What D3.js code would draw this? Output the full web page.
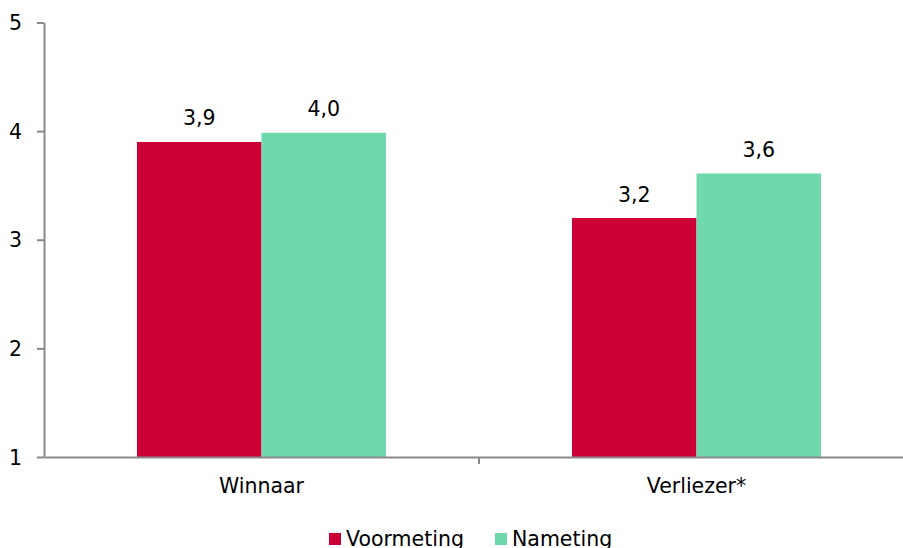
<!DOCTYPE html>
<html>
  <head>
    <meta charset="utf-8">
    <title>Voormeting / Nameting</title>
    <style>
      body { margin: 0; background: #fff; }
      svg text { font-family: "DejaVu Sans", sans-serif; fill: #000; }
    </style>
  </head>
  <body>
    <div><svg id='chart'/></div>
  </body>
  <script type="text/javascript" src="https://cdn.jsdelivr.net/npm/d3@7/dist/d3.min.js"></script>
  <script type="text/javascript">
    const categories = ['Winnaar', 'Verliezer*'];
    const seriesNames = ['Voormeting', 'Nameting'];
    const voormeting = [3.9, 3.2];
    const nameting = [3.985, 3.61];
    const valueLabels = [['3,9', '4,0'], ['3,2', '3,6']];
    const yTicks = [1, 2, 3, 4, 5];
    const colors = ['#cc0036', '#6fd9ad'];

    const [width, height] = [903, 548];
    const fontSize = '20.5px';
    var svg = d3.select('#chart')
      .attr('width', width)
      .attr('height', height)

    // schalen
    var x = d3.scaleBand()
      .domain(categories)
      .range([44, 914])
      .paddingInner(0)
      .paddingOuter(0)

    var x1 = d3.scaleBand()
      .domain(seriesNames)
      .range([93, 342])

    var y = d3.scaleLinear()
      .domain([1, 5])
      .range([457, 22.5])

    var rows = categories.map(function(c, i) {
      return { cat: c, vals: [voormeting[i], nameting[i]], labels: valueLabels[i] }
    })

    // staven
    var groups = svg.append('g')
      .selectAll('g')
      .data(rows)
      .enter()
      .append('g')
      .attr('transform', function(d) { return 'translate(' + x(d.cat) + ',0)' })

    groups.selectAll('rect')
      .data(function(d) { return d.vals.map(function(v, j) { return { v: v, j: j, label: d.labels[j] } }) })
      .enter()
      .append('rect')
      .attr('x', function(d) { return x1(seriesNames[d.j]) })
      .attr('width', x1.bandwidth())
      .attr('y', function(d) { return y(d.v) })
      .attr('height', function(d) { return y(1) - y(d.v) })
      .attr('fill', function(d) { return colors[d.j] })

    groups.selectAll('text')
      .data(function(d) { return d.vals.map(function(v, j) { return { v: v, j: j, label: d.labels[j] } }) })
      .enter()
      .append('text')
      .attr('x', function(d) { return x1(seriesNames[d.j]) + x1.bandwidth() / 2 })
      .attr('y', function(d) { return y(d.v) - 16.5 })
      .attr('text-anchor', 'middle')
      .style('font-size', fontSize)
      .text(function(d) { return d.label })

    // y-as
    var yAxis = svg.append('g')
      .attr('transform', 'translate(44,0)')
      .call(d3.axisLeft(y).tickValues(yTicks).tickFormat(d3.format('d')).tickSize(7).tickSizeOuter(0).tickPadding(15))
    yAxis.selectAll('text').style('font-size', fontSize).attr('dy', '0.35em')

    // x-as
    var xAxis = svg.append('g')
      .attr('transform', 'translate(0,457)')
      .call(d3.axisBottom(x).tickSize(0).tickPadding(21))
    xAxis.selectAll('text').style('font-size', fontSize)
    xAxis.selectAll('.tick')
      .append('line')
      .attr('x1', x.bandwidth() / 2)
      .attr('x2', x.bandwidth() / 2)
      .attr('y2', 7)
    svg.selectAll('.domain, .tick line')
      .attr('stroke', '#898989')
      .attr('stroke-width', 2)

    // legenda
    var legendX = [329, 495];
    var legend = svg.append('g')
      .selectAll('g')
      .data(seriesNames)
      .enter()
      .append('g')
      .attr('transform', function(d, i) { return 'translate(' + legendX[i] + ',533)' });

    legend.append('rect')
      .attr('width', 12)
      .attr('height', 12)
      .attr('fill', function(d, i) { return colors[i] });
    legend.append('text')
      .attr('x', 17)
      .attr('y', 12.5)
      .style('font-size', fontSize)
      .text(function(d) { return d })
  </script>
</html>
